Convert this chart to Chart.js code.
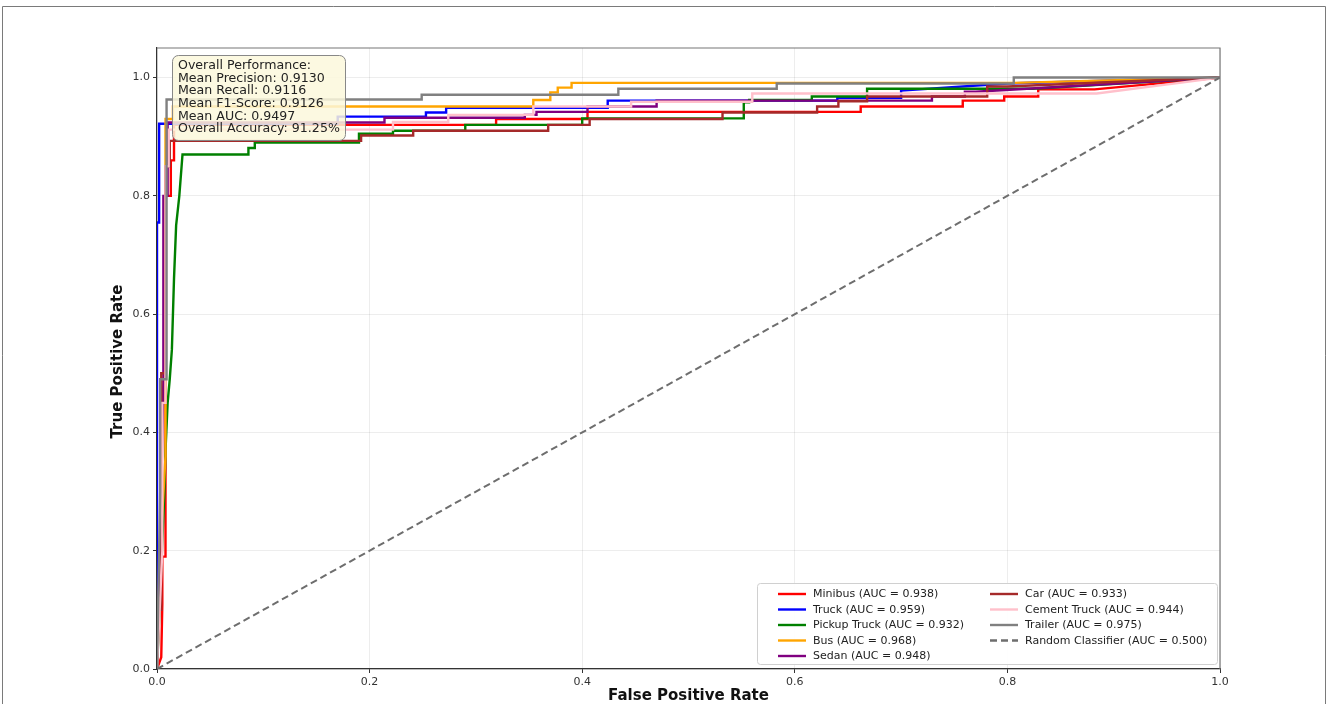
<!DOCTYPE html>
<html>
<head>
<meta charset="utf-8">
<script src="https://cdn.jsdelivr.net/npm/chart.js@4/dist/chart.umd.min.js"></script>
<style>
  html, body { margin: 0; padding: 0; background: #fff; }
</style>
</head>
<body>
<canvas id="rocChart" width="1328" height="704"></canvas>
<script>
// ROC points [fpr, tpr]
const minibus = [[0,0],[0.004,0.02],[0.005,0.11],[0.005,0.19],[0.008,0.19],[0.008,0.8],[0.013,0.8],[0.013,0.86],[0.016,0.86],[0.016,0.92],[0.319,0.92],[0.319,0.93],[0.405,0.93],[0.405,0.942],[0.662,0.942],[0.662,0.951],[0.758,0.951],[0.758,0.961],[0.797,0.961],[0.797,0.968],[0.829,0.968],[0.829,0.98],[0.882,0.98],[1,1]];
const truck = [[0,0],[0,0.755],[0.002,0.755],[0.002,0.922],[0.17,0.922],[0.17,0.934],[0.253,0.934],[0.253,0.941],[0.272,0.941],[0.272,0.949],[0.424,0.949],[0.424,0.961],[0.64,0.961],[0.64,0.966],[0.70,0.966],[0.70,0.978],[0.80,0.99],[1,1]];
const pickupTruck = [[0,0],[0.007,0.3],[0.008,0.37],[0.010,0.45],[0.012,0.49],[0.014,0.54],[0.016,0.66],[0.018,0.75],[0.021,0.8],[0.024,0.87],[0.086,0.87],[0.086,0.881],[0.092,0.881],[0.092,0.89],[0.19,0.89],[0.19,0.905],[0.222,0.905],[0.222,0.91],[0.29,0.91],[0.29,0.92],[0.40,0.92],[0.40,0.931],[0.552,0.931],[0.552,0.958],[0.557,0.958],[0.557,0.962],[0.616,0.962],[0.616,0.968],[0.668,0.968],[0.668,0.981],[0.824,0.981],[1,1]];
const bus = [[0,0],[0.003,0.2],[0.008,0.36],[0.008,0.93],[0.015,0.93],[0.015,0.951],[0.354,0.951],[0.354,0.962],[0.370,0.962],[0.370,0.975],[0.377,0.975],[0.377,0.983],[0.390,0.983],[0.390,0.991],[0.806,0.991],[1,1]];
const sedan = [[0,0],[0.004,0.3],[0.006,0.49],[0.006,0.8],[0.010,0.8],[0.010,0.924],[0.214,0.924],[0.214,0.932],[0.346,0.932],[0.346,0.937],[0.357,0.937],[0.357,0.942],[0.405,0.942],[0.405,0.951],[0.47,0.951],[0.47,0.961],[0.729,0.961],[0.729,0.968],[0.76,0.968],[0.76,0.976],[0.77,0.976],[1,1]];
const car = [[0,0],[0.002,0.1],[0.004,0.1],[0.004,0.5],[0.008,0.5],[0.008,0.85],[0.012,0.85],[0.012,0.893],[0.192,0.893],[0.192,0.902],[0.241,0.902],[0.241,0.91],[0.368,0.91],[0.368,0.92],[0.407,0.92],[0.407,0.93],[0.532,0.93],[0.532,0.941],[0.621,0.941],[0.621,0.951],[0.641,0.951],[0.641,0.96],[0.668,0.96],[0.668,0.968],[0.781,0.968],[0.781,0.985],[0.80,0.985],[1,1]];
const cementTruck = [[0,0],[0.005,0.2],[0.005,0.45],[0.008,0.45],[0.008,0.85],[0.011,0.85],[0.011,0.912],[0.222,0.912],[0.222,0.925],[0.274,0.925],[0.274,0.937],[0.354,0.937],[0.354,0.951],[0.446,0.951],[0.446,0.959],[0.560,0.959],[0.560,0.973],[0.884,0.973],[1,1]];
const trailer = [[0,0],[0.003,0.3],[0.003,0.49],[0.009,0.49],[0.009,0.963],[0.249,0.963],[0.249,0.971],[0.434,0.971],[0.434,0.981],[0.583,0.981],[0.583,0.99],[0.806,0.99],[0.806,1.0],[1,1]];
const randomLine = [[0,0],[1,1]];

const classNames = ['Minibus', 'Truck', 'Pickup Truck', 'Bus', 'Sedan', 'Car', 'Cement Truck', 'Trailer'];
const aucValues = [0.938, 0.959, 0.932, 0.968, 0.948, 0.933, 0.944, 0.975];
const classColors = ['#ff0000', '#0000ff', '#008000', '#ffa500', '#800080', '#a52a2a', '#ffc0cb', '#808080'];
const curves = [minibus, truck, pickupTruck, bus, sedan, car, cementTruck, trailer];
const tickValues = [0, 0.2, 0.4, 0.6, 0.8, 1.0];

const statsLines = [
  'Overall Performance:',
  'Mean Precision: 0.9130',
  'Mean Recall: 0.9116',
  'Mean F1-Score: 0.9126',
  'Mean AUC: 0.9497',
  'Overall Accuracy: 91.25%'
];

const FONT = '"DejaVu Sans", Arial, sans-serif';

const datasets = curves.map((pts, i) => ({
  label: classNames[i] + ' (AUC = ' + aucValues[i].toFixed(3) + ')',
  data: pts.map(p => ({x: p[0], y: p[1]})),
  borderColor: classColors[i],
  backgroundColor: classColors[i],
  borderWidth: 2.4,
  showLine: true,
  pointRadius: 0,
  tension: 0,
  order: 20 - i
}));
datasets.push({
  label: 'Random Classifier (AUC = 0.500)',
  data: randomLine.map(p => ({x: p[0], y: p[1]})),
  borderColor: '#6e6e6e',
  backgroundColor: '#6e6e6e',
  borderWidth: 2,
  borderDash: [7, 4],
  showLine: true,
  pointRadius: 0,
  order: 1
});

const decorations = {
  id: 'decorations',
  beforeDraw(chart) {
    const ctx = chart.ctx;
    ctx.save();
    ctx.fillStyle = '#fff';
    ctx.fillRect(0, 0, chart.width, chart.height);
    ctx.strokeStyle = '#7a7a7a';
    ctx.lineWidth = 1;
    ctx.beginPath();
    ctx.moveTo(2.5, 710);
    ctx.lineTo(2.5, 6.5);
    ctx.lineTo(1325.5, 6.5);
    ctx.lineTo(1325.5, 710);
    ctx.stroke();
    ctx.restore();
  },
  afterDraw(chart) {
    const ctx = chart.ctx;
    const a = chart.chartArea;
    ctx.save();

    // top and right spines
    ctx.strokeStyle = '#777';
    ctx.lineWidth = 1.2;
    ctx.beginPath();
    ctx.moveTo(a.left, a.top);
    ctx.lineTo(a.right, a.top);
    ctx.lineTo(a.right, a.bottom);
    ctx.stroke();

    // axis titles
    ctx.fillStyle = '#111';
    ctx.font = 'bold 15px ' + FONT;
    ctx.textAlign = 'center';
    ctx.textBaseline = 'middle';
    ctx.fillText('False Positive Rate', (a.left + a.right) / 2, 696);
    ctx.save();
    ctx.translate(118, (a.top + a.bottom) / 2 + 3);
    ctx.rotate(-Math.PI / 2);
    ctx.fillText('True Positive Rate', 0, 0);
    ctx.restore();

    // stats box
    const bx = a.left + 15, by = a.top + 7, bw = 173, bh = 85;
    ctx.beginPath();
    ctx.roundRect(bx + 0.5, by + 0.5, bw, bh, 6);
    ctx.fillStyle = 'rgba(252, 248, 220, 0.85)';
    ctx.fill();
    ctx.strokeStyle = '#888';
    ctx.lineWidth = 1;
    ctx.stroke();
    ctx.fillStyle = '#222';
    ctx.font = '12.6px ' + FONT;
    ctx.textAlign = 'left';
    ctx.textBaseline = 'middle';
    statsLines.forEach((t, i) => ctx.fillText(t, bx + 6, by + 11 + i * 12.6));

    // legend, two columns filled top-down
    const lw = 460, lh = 81;
    const lx = a.right - 3 - lw, ly = a.bottom - 5 - lh;
    ctx.beginPath();
    ctx.roundRect(lx + 0.5, ly + 0.5, lw, lh, 3);
    ctx.fillStyle = 'rgba(255,255,255,0.9)';
    ctx.fill();
    ctx.strokeStyle = '#d0d0d0';
    ctx.stroke();
    ctx.font = '11px ' + FONT;
    const ds = chart.data.datasets;
    ds.forEach((d, i) => {
      const col = i < 5 ? 0 : 1;
      const row = i < 5 ? i : i - 5;
      const sx = lx + 21 + col * 212;
      const sy = ly + 11 + row * 15.5;
      ctx.strokeStyle = d.borderColor;
      ctx.lineWidth = 2.4;
      ctx.setLineDash(d.borderDash || []);
      ctx.beginPath();
      ctx.moveTo(sx, sy);
      ctx.lineTo(sx + 28, sy);
      ctx.stroke();
      ctx.setLineDash([]);
      ctx.fillStyle = '#222';
      ctx.fillText(d.label, sx + 35, sy + 0.5);
    });
    ctx.restore();
  }
};

const axisCommon = {
  type: 'linear',
  ticks: {
    color: '#333',
    font: { family: FONT, size: 11 },
    padding: 3,
    includeBounds: false,
    callback: v => Number(v).toFixed(1)
  },
  afterBuildTicks: scale => { scale.ticks = tickValues.map(v => ({ value: v })); },
  grid: {
    color: 'rgba(0,0,0,0.07)',
    tickColor: '#333',
    tickLength: 4
  },
  border: { color: '#333', width: 1.2 }
};

new Chart(document.getElementById('rocChart'), {
  type: 'scatter',
  data: { datasets },
  options: {
    responsive: false,
    animation: false,
    devicePixelRatio: 1,
    layout: { padding: { top: 48, right: 108, left: 0, bottom: 0 } },
    plugins: { legend: { display: false }, tooltip: { enabled: false } },
    scales: {
      x: Object.assign({}, axisCommon, {
        min: 0, max: 1,
        afterFit: s => { s.height = 35; }
      }),
      y: Object.assign({}, axisCommon, {
        min: 0, max: 1.05,
        afterFit: s => { s.width = 157; }
      })
    }
  },
  plugins: [decorations]
});
</script>
</body>
</html>
